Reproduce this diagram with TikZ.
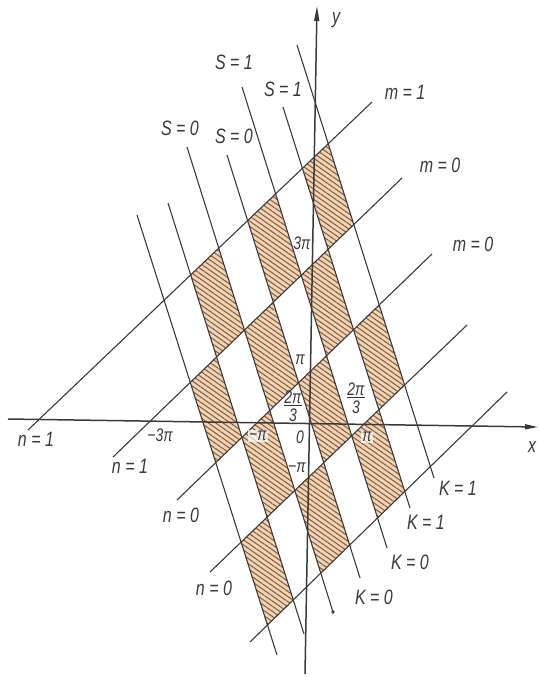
\documentclass[tikz,border=0pt]{standalone}
\usepackage{graphicx}
\usepackage{fontspec}
\setmainfont{Liberation Sans}
\usetikzlibrary{patterns.meta,arrows.meta}
\definecolor{ink}{HTML}{3A3A3A}
\definecolor{peach}{HTML}{F4D3B0}
\definecolor{hatchc}{HTML}{7A5A48}
\newcommand\hcell[4]{\path[cellst] (intersection of #11--#12 and L#3a--L#3b) -- (intersection of #21--#22 and L#3a--L#3b) -- (intersection of #21--#22 and L#4a--L#4b) -- (intersection of #11--#12 and L#4a--L#4b) -- cycle;}
\newcommand\tall[1]{\scalebox{1}[1.3]{#1}}
\begin{document}
\begin{tikzpicture}[x=1pt,y=-1pt,
  ln/.style={draw=ink,line width=1.1pt},
  axisln/.style={draw=ink,line width=1.5pt},
  cellst/.style={fill=peach,postaction={pattern={Lines[angle=-35,distance=4.2pt,line width=1pt]},pattern color=hatchc}},
  lab/.style={font=\fontsize{16}{18}\selectfont\itshape,text=ink,inner sep=0pt},
  mlab/.style={font=\fontsize{14}{16}\selectfont\itshape,text=ink,inner sep=1pt},
  mlabw/.style={mlab,fill=white,fill opacity=0.7,text opacity=1},
]
\useasboundingbox (0,0) rectangle (539,677);
% steep lines (top / bottom ends)
\coordinate (A1) at (137,215); \coordinate (A2) at (277,655);
\coordinate (B1) at (168,203); \coordinate (B2) at (304,634);
\coordinate (C1) at (187,147); \coordinate (C2) at (333,612);
\coordinate (D1) at (227,155); \coordinate (D2) at (360,578);
\coordinate (E1) at (242,87);  \coordinate (E2) at (387,548);
\coordinate (F1) at (283,107); \coordinate (F2) at (410,508);
\coordinate (G1) at (297,45);  \coordinate (G2) at (434,478);
% ascending lines (lower / upper ends)
\coordinate (L1a) at (28,430);  \coordinate (L1b) at (372,102);
\coordinate (L2a) at (113,457); \coordinate (L2b) at (402,178);
\coordinate (L3a) at (177,500); \coordinate (L3b) at (432,254);
\coordinate (L4a) at (210,572); \coordinate (L4b) at (467,325);
\coordinate (L5a) at (250,642); \coordinate (L5b) at (507,392);
% axes ends
\coordinate (xl) at (8,419);  \coordinate (xr) at (538,427);
\coordinate (yb) at (305,674); \coordinate (yt) at (317,6);

% hatched cells
\hcell{B}{C}{1}{2} \hcell{D}{E}{1}{2} \hcell{F}{G}{1}{2}
\hcell{A}{B}{2}{3} \hcell{C}{D}{2}{3} \hcell{E}{F}{2}{3}
\hcell{B}{C}{3}{4} \hcell{D}{E}{3}{4} \hcell{F}{G}{3}{4}
\hcell{A}{B}{4}{5} \hcell{C}{D}{4}{5} \hcell{E}{F}{4}{5}

% lines
\foreach \s in {A,B,C,D,E,F,G} {\draw[ln] (\s1) -- (\s2);}
\foreach \l in {1,2,3,4,5} {\draw[ln] (L\l a) -- (L\l b);}
\fill[ink] (C2) circle (1.8pt);

% axes
\draw[axisln,-{Triangle[length=13pt,width=5pt]}] (xl) -- (xr);
\draw[axisln,-{Triangle[length=15pt,width=5pt]}] (yb) -- (yt);

% labels
\node[lab] (ly) at (336,20) {\tall{y}};
\node[lab] (lx) at (532,447) {\tall{x}};
\node[lab] (m1) at (405,92) {\tall{m = 1}};
\node[lab] (m0a) at (440,165) {\tall{m = 0}};
\node[lab] (m0b) at (473,244) {\tall{m = 0}};
\node[lab] (s1a) at (234,62) {\tall{S = 1}};
\node[lab] (s1b) at (283,89) {\tall{S = 1}};
\node[lab] (s0a) at (180,128) {\tall{S = 0}};
\node[lab] (s0b) at (234,136) {\tall{S = 0}};
\node[lab] (n1a) at (36,439) {\tall{n = 1}};
\node[lab] (n1b) at (130,466) {\tall{n = 1}};
\node[lab] (n0a) at (181,515) {\tall{n = 0}};
\node[lab] (n0b) at (214,588) {\tall{n = 0}};
\node[lab] (k1a) at (458,488) {\tall{K = 1}};
\node[lab] (k1b) at (426,522) {\tall{K = 1}};
\node[lab] (k0a) at (410,562) {\tall{K = 0}};
\node[lab] (k0b) at (374,597) {\tall{K = 0}};

\node[mlab] (t1) at (160,435) {\tall{−3π}};
\node[mlabw] (t2) at (258,436) {\tall{−π}};
\node[mlab] (t3) at (300,437) {\tall{0}};
\node[mlabw] (t4) at (367,437) {\tall{π}};
\node[mlab] (t5) at (302,243) {\tall{3π}};
\node[mlab] (t6) at (300,360) {\tall{π}};
\node[mlab] (t7) at (297,468) {\tall{−π}};
\node[mlab,align=center,inner sep=0pt] (f1) at (293,406) {\tall{\underline{2π}}\\[2pt]\tall{3}};
\node[mlab,align=center,inner sep=0pt] (f2) at (356,398) {\tall{\underline{2π}}\\[2pt]\tall{3}};
\end{tikzpicture}
\end{document}
